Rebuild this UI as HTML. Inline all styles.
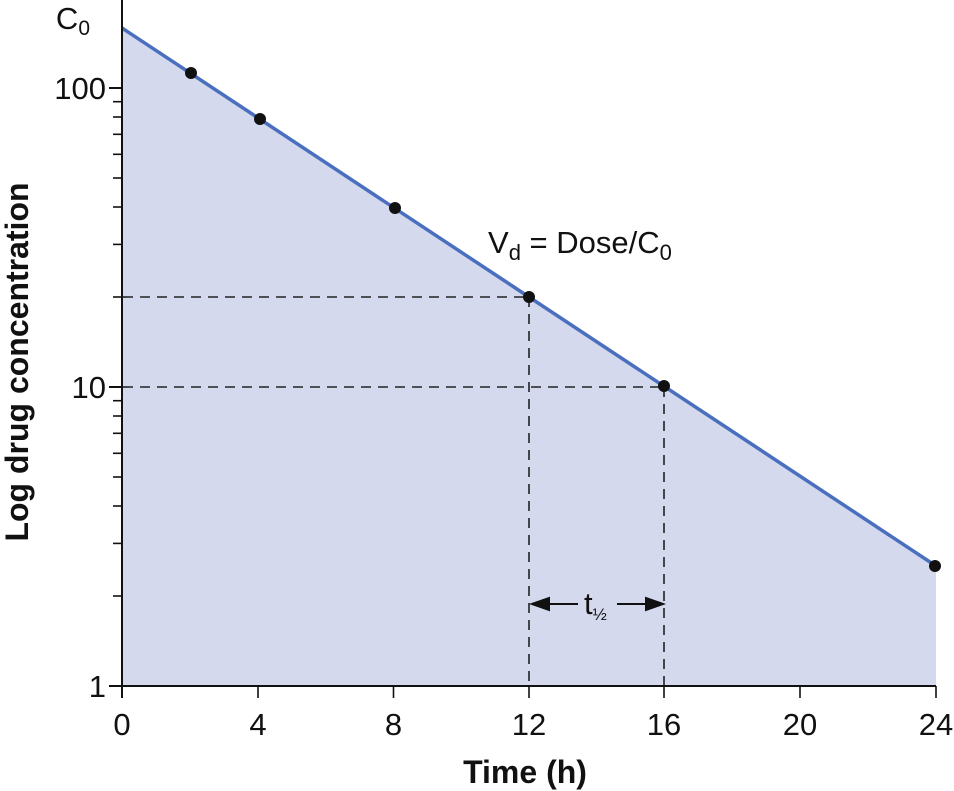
<!DOCTYPE html>
<html><head><meta charset="utf-8"><style>
html,body{margin:0;padding:0;background:#fff;}
svg{display:block;font-family:"Liberation Sans",Arial,sans-serif;}
</style></head><body>
<svg width="954" height="791" viewBox="0 0 954 791" xmlns="http://www.w3.org/2000/svg">
<polygon points="122,28 936,566 936,686 122,686" fill="#d5d9ee"/>
<g stroke="#222" stroke-width="1.6" stroke-dasharray="10,7" fill="none">
<line x1="123" y1="297" x2="529" y2="297"/>
<line x1="123" y1="387" x2="664" y2="387"/>
<line x1="529" y1="297" x2="529" y2="686"/>
<line x1="664" y1="387" x2="664" y2="686"/>
</g>
<line x1="122" y1="28" x2="936" y2="566" stroke="#4a6fbf" stroke-width="3.5"/>
<g fill="#111">
<circle cx="191" cy="73" r="6"/><circle cx="260" cy="119" r="6"/><circle cx="395" cy="208" r="6"/>
<circle cx="529" cy="297" r="6"/><circle cx="664" cy="386" r="6"/><circle cx="935" cy="566" r="6"/>
</g>
<g stroke="#111" stroke-width="2">
<line x1="122" y1="0" x2="122" y2="698"/>
<line x1="121" y1="686" x2="936" y2="686"/>
<line x1="109" y1="88" x2="122" y2="88"/><line x1="109" y1="387" x2="122" y2="387"/><line x1="109" y1="686" x2="122" y2="686"/>
</g>
<g stroke="#111" stroke-width="1.6">
<line x1="113" y1="596" x2="122" y2="596"/><line x1="113" y1="543.4" x2="122" y2="543.4"/><line x1="113" y1="506" x2="122" y2="506"/><line x1="113" y1="477" x2="122" y2="477"/><line x1="113" y1="453.3" x2="122" y2="453.3"/><line x1="113" y1="433.3" x2="122" y2="433.3"/><line x1="113" y1="416" x2="122" y2="416"/><line x1="113" y1="400.7" x2="122" y2="400.7"/>
<line x1="113" y1="297" x2="122" y2="297"/><line x1="113" y1="244.4" x2="122" y2="244.4"/><line x1="113" y1="207" x2="122" y2="207"/><line x1="113" y1="178" x2="122" y2="178"/><line x1="113" y1="154.3" x2="122" y2="154.3"/><line x1="113" y1="134.3" x2="122" y2="134.3"/><line x1="113" y1="117" x2="122" y2="117"/><line x1="113" y1="101.7" x2="122" y2="101.7"/>
<line x1="258" y1="686" x2="258" y2="698"/><line x1="393.5" y1="686" x2="393.5" y2="698"/><line x1="529" y1="686" x2="529" y2="698"/><line x1="664" y1="686" x2="664" y2="698"/><line x1="800" y1="686" x2="800" y2="698"/><line x1="936" y1="686" x2="936" y2="698"/>
</g>
<g font-size="31" fill="#111" text-anchor="middle">
<text x="122" y="735">0</text><text x="258" y="735">4</text><text x="393.5" y="735">8</text><text x="529" y="735">12</text><text x="664" y="735">16</text><text x="800" y="735">20</text><text x="936" y="735">24</text>
</g>
<g font-size="31" fill="#111" text-anchor="end">
<text x="106" y="99">100</text><text x="106" y="398">10</text><text x="106" y="697">1</text>
<text x="90" y="29">C<tspan font-size="21" dy="6">0</tspan></text>
</g>
<text x="488" y="253" font-size="31" fill="#111">V<tspan font-size="22" dy="7">d</tspan><tspan dy="-7"> = Dose/C</tspan><tspan font-size="22" dy="7">0</tspan></text>
<g stroke="#111" stroke-width="2" fill="#111">
<line x1="545" y1="604" x2="578" y2="604"/><polygon points="532,604 549,598 549,610"/>
<line x1="617" y1="604" x2="651" y2="604"/><polygon points="663,604 646,598 646,610"/>
</g>
<text x="584" y="614" font-size="31" fill="#111">t<tspan font-size="17" dy="6">½</tspan></text>
<text x="525" y="783" font-size="32" font-weight="bold" fill="#111" text-anchor="middle">Time (h)</text>
<text transform="translate(28,362) rotate(-90)" font-size="32" font-weight="bold" fill="#111" text-anchor="middle">Log drug concentration</text>
</svg>
</body></html>
